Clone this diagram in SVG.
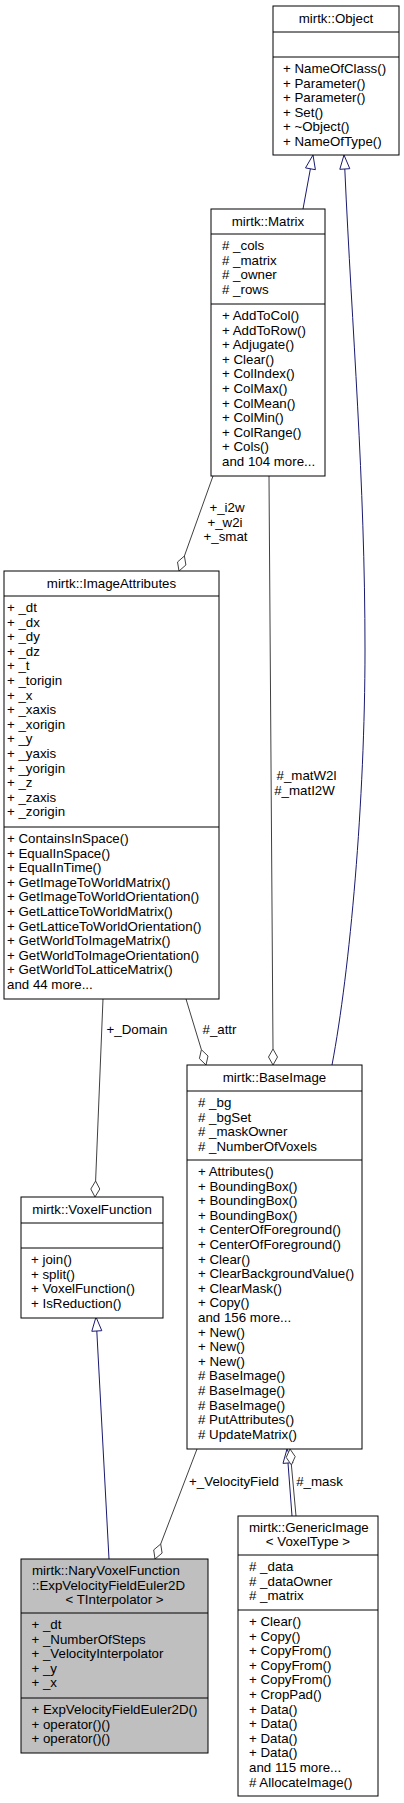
<svg xmlns="http://www.w3.org/2000/svg" width="404" height="1803" viewBox="0 0 404 1803">
<style>
text{font-family:"Liberation Sans",Arial,Helvetica,sans-serif;font-size:13.3px;fill:#000}
.c{text-anchor:middle}
.box{fill:#fff;stroke:#000;stroke-width:1}
.cur{fill:#bfbfbf;stroke:#000;stroke-width:1}
.sep{stroke:#000;stroke-width:1}
.e{fill:none;stroke:#404040;stroke-width:1}
.g{fill:none;stroke:#191970;stroke-width:1}
.tri{fill:#fff;stroke:#191970;stroke-width:1}
.dia{fill:#fff;stroke:#404040;stroke-width:1}
</style>
<rect width="404" height="1803" fill="#fff"/>
<g id="connectors">
<!-- Matrix -> Object -->
<path class="g" d="M303,209 L310.4,168.8"/>
<polygon class="tri" points="313,155 315.4,169.7 305.5,167.9"/>
<!-- BaseImage -> Object -->
<path class="g" d="M344.8,169 C352,330 365,480 365,650 C365,800 350,970 332,1065"/>
<polygon class="tri" points="344,155 349.8,168.7 339.8,169.3"/>
<!-- Matrix -> ImageAttributes -->
<path class="e" d="M184.4,556 L213,476"/>
<polygon class="dia" points="179,571 185.9,565 184.4,556 177.5,562"/>
<!-- Matrix -> BaseImage -->
<path class="e" d="M273,1049 L269,476"/>
<polygon class="dia" points="273,1065 277.5,1057 273,1049 268.5,1057"/>
<!-- ImageAttributes -> VoxelFunction -->
<path class="e" d="M95.6,1181 L103,999"/>
<polygon class="dia" points="95,1197 99.8,1189 95.6,1181 90.8,1189"/>
<!-- ImageAttributes -> BaseImage -->
<path class="e" d="M201.4,1049.7 L186,999"/>
<polygon class="dia" points="206,1065 208,1056 201.4,1049.7 199.4,1058.6"/>
<!-- VoxelFunction -> ExpVelocity -->
<path class="g" d="M96.8,1331 L109,1559"/>
<polygon class="tri" points="96,1317 101.8,1330.7 91.8,1331.3"/>
<!-- BaseImage -> ExpVelocity -->
<path class="e" d="M160.7,1544 L197,1449"/>
<polygon class="dia" points="155,1559 162.1,1553.1 160.7,1544 153.7,1549.9"/>
<!-- GenericImage -> BaseImage (inheritance) -->
<path class="g" d="M288,1463 L292,1516"/>
<polygon class="tri" points="287,1449 293,1462.6 283,1463.4"/>
<!-- GenericImage -> BaseImage (#_mask) -->
<path class="e" d="M291.4,1465 L296,1516"/>
<polygon class="dia" points="290,1449 295.2,1456.6 291.4,1465 286.2,1457.4"/>
<!-- labels -->
<text class="c" x="227" y="512">+_i2w</text>
<text class="c" x="225" y="527">+_w2i</text>
<text class="c" x="225.5" y="541">+_smat</text>
<text class="c" x="306.5" y="780">#_matW2l</text>
<text class="c" x="304.5" y="795">#_matI2W</text>
<text class="c" x="137" y="1034">+_Domain</text>
<text class="c" x="219.5" y="1034">#_attr</text>
<text class="c" x="234" y="1486">+_VelocityField</text>
<text class="c" x="319.5" y="1486">#_mask</text>
</g>
<g id="Object">
<rect class="box" x="273" y="6" width="126" height="149"/>
<text class="c" x="336" y="23">mirtk::Object</text>
<line class="sep" x1="273" y1="32" x2="399" y2="32"/>
<line class="sep" x1="273" y1="57" x2="399" y2="57"/>
<text x="283" y="73">+ NameOfClass()</text>
<text x="283" y="87.6">+ Parameter()</text>
<text x="283" y="102.2">+ Parameter()</text>
<text x="283" y="116.8">+ Set()</text>
<text x="283" y="131.4">+ ~Object()</text>
<text x="283" y="146">+ NameOfType()</text>
</g>
<g id="Matrix">
<rect class="box" x="211" y="209" width="114" height="267"/>
<text class="c" x="268" y="225.5">mirtk::Matrix</text>
<line class="sep" x1="211" y1="234" x2="325" y2="234"/>
<text x="222" y="250">#  _cols</text>
<text x="222" y="264.6">#  _matrix</text>
<text x="222" y="279.2">#  _owner</text>
<text x="222" y="293.8">#  _rows</text>
<line class="sep" x1="211" y1="304" x2="325" y2="304"/>
<text x="222" y="320">+ AddToCol()</text>
<text x="222" y="334.6">+ AddToRow()</text>
<text x="222" y="349.2">+ Adjugate()</text>
<text x="222" y="363.8">+ Clear()</text>
<text x="222" y="378.4">+ ColIndex()</text>
<text x="222" y="393">+ ColMax()</text>
<text x="222" y="407.6">+ ColMean()</text>
<text x="222" y="422.2">+ ColMin()</text>
<text x="222" y="436.8">+ ColRange()</text>
<text x="222" y="451.4">+ Cols()</text>
<text x="222" y="466">and 104 more...</text>
</g>
<g id="ImageAttributes">
<rect class="box" x="4" y="571" width="215" height="428"/>
<text class="c" x="111.5" y="587.5">mirtk::ImageAttributes</text>
<line class="sep" x1="4" y1="596" x2="219" y2="596"/>
<text x="7" y="612">+ _dt</text>
<text x="7" y="626.6">+ _dx</text>
<text x="7" y="641.2">+ _dy</text>
<text x="7" y="655.8">+ _dz</text>
<text x="7" y="670.4">+ _t</text>
<text x="7" y="685">+ _torigin</text>
<text x="7" y="699.6">+ _x</text>
<text x="7" y="714.2">+ _xaxis</text>
<text x="7" y="728.8">+ _xorigin</text>
<text x="7" y="743.4">+ _y</text>
<text x="7" y="758">+ _yaxis</text>
<text x="7" y="772.6">+ _yorigin</text>
<text x="7" y="787.2">+ _z</text>
<text x="7" y="801.8">+ _zaxis</text>
<text x="7" y="816.4">+ _zorigin</text>
<line class="sep" x1="4" y1="827" x2="219" y2="827"/>
<text x="7" y="843">+ ContainsInSpace()</text>
<text x="7" y="857.6">+ EqualInSpace()</text>
<text x="7" y="872.2">+ EqualInTime()</text>
<text x="7" y="886.8">+ GetImageToWorldMatrix()</text>
<text x="7" y="901.4">+ GetImageToWorldOrientation()</text>
<text x="7" y="916">+ GetLatticeToWorldMatrix()</text>
<text x="7" y="930.6">+ GetLatticeToWorldOrientation()</text>
<text x="7" y="945.2">+ GetWorldToImageMatrix()</text>
<text x="7" y="959.8">+ GetWorldToImageOrientation()</text>
<text x="7" y="974.4">+ GetWorldToLatticeMatrix()</text>
<text x="7" y="989">and 44 more...</text>
</g>
<g id="BaseImage">
<rect class="box" x="187" y="1065" width="175" height="384"/>
<text class="c" x="274.5" y="1081.5">mirtk::BaseImage</text>
<line class="sep" x1="187" y1="1091" x2="362" y2="1091"/>
<text x="198" y="1107">#  _bg</text>
<text x="198" y="1121.6">#  _bgSet</text>
<text x="198" y="1136.2">#  _maskOwner</text>
<text x="198" y="1150.8">#  _NumberOfVoxels</text>
<line class="sep" x1="187" y1="1160" x2="362" y2="1160"/>
<text x="198" y="1176">+ Attributes()</text>
<text x="198" y="1190.6">+ BoundingBox()</text>
<text x="198" y="1205.2">+ BoundingBox()</text>
<text x="198" y="1219.8">+ BoundingBox()</text>
<text x="198" y="1234.4">+ CenterOfForeground()</text>
<text x="198" y="1249">+ CenterOfForeground()</text>
<text x="198" y="1263.6">+ Clear()</text>
<text x="198" y="1278.2">+ ClearBackgroundValue()</text>
<text x="198" y="1292.8">+ ClearMask()</text>
<text x="198" y="1307.4">+ Copy()</text>
<text x="198" y="1322">and 156 more...</text>
<text x="198" y="1336.6">+ New()</text>
<text x="198" y="1351.2">+ New()</text>
<text x="198" y="1365.8">+ New()</text>
<text x="198" y="1380.4"># BaseImage()</text>
<text x="198" y="1395"># BaseImage()</text>
<text x="198" y="1409.6"># BaseImage()</text>
<text x="198" y="1424.2"># PutAttributes()</text>
<text x="198" y="1438.8"># UpdateMatrix()</text>
</g>
<g id="VoxelFunction">
<rect class="box" x="21" y="1197" width="142" height="121"/>
<text class="c" x="92" y="1213.5">mirtk::VoxelFunction</text>
<line class="sep" x1="21" y1="1223" x2="163" y2="1223"/>
<line class="sep" x1="21" y1="1248" x2="163" y2="1248"/>
<text x="31" y="1264">+ join()</text>
<text x="31" y="1278.6">+ split()</text>
<text x="31" y="1293.2">+ VoxelFunction()</text>
<text x="31" y="1307.8">+ IsReduction()</text>
</g>
<g id="GenericImage">
<rect class="box" x="238" y="1516" width="140" height="280"/>
<text x="249" y="1531.5">mirtk::GenericImage</text>
<text class="c" x="308" y="1546">&lt; VoxelType &gt;</text>
<line class="sep" x1="238" y1="1555" x2="378" y2="1555"/>
<text x="249" y="1571">#  _data</text>
<text x="249" y="1585.6">#  _dataOwner</text>
<text x="249" y="1600.2">#  _matrix</text>
<line class="sep" x1="238" y1="1610" x2="378" y2="1610"/>
<text x="249" y="1626">+ Clear()</text>
<text x="249" y="1640.6">+ Copy()</text>
<text x="249" y="1655.2">+ CopyFrom()</text>
<text x="249" y="1669.8">+ CopyFrom()</text>
<text x="249" y="1684.4">+ CopyFrom()</text>
<text x="249" y="1699">+ CropPad()</text>
<text x="249" y="1713.6">+ Data()</text>
<text x="249" y="1728.2">+ Data()</text>
<text x="249" y="1742.8">+ Data()</text>
<text x="249" y="1757.4">+ Data()</text>
<text x="249" y="1772">and 115 more...</text>
<text x="249" y="1786.6"># AllocateImage()</text>
</g>
<g id="ExpVelocityFieldEuler2D">
<rect class="cur" x="21" y="1559" width="187" height="194"/>
<text x="32" y="1575">mirtk::NaryVoxelFunction</text>
<text x="32" y="1589.6">::ExpVelocityFieldEuler2D</text>
<text class="c" x="114.5" y="1604.2">&lt; TInterpolator &gt;</text>
<line class="sep" x1="21" y1="1613" x2="208" y2="1613"/>
<text x="31.5" y="1629">+ _dt</text>
<text x="31.5" y="1643.6">+ _NumberOfSteps</text>
<text x="31.5" y="1658.2">+ _VelocityInterpolator</text>
<text x="31.5" y="1672.8">+ _y</text>
<text x="31.5" y="1687.4">+ _x</text>
<line class="sep" x1="21" y1="1698" x2="208" y2="1698"/>
<text x="31.5" y="1714">+ ExpVelocityFieldEuler2D()</text>
<text x="31.5" y="1728.6">+ operator()()</text>
<text x="31.5" y="1743.2">+ operator()()</text>
</g>
</svg>
